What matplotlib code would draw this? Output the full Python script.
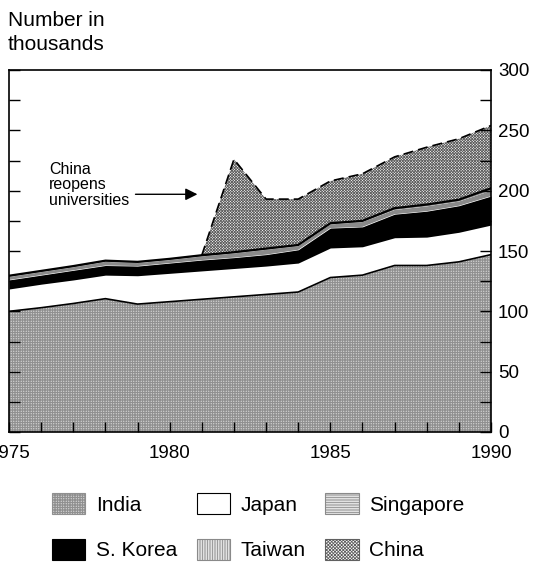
import matplotlib.pyplot as plt
import matplotlib.ticker as mticker
import numpy as np
from matplotlib.patches import Patch

plt.rcParams['font.family'] = ['Liberation Sans', 'DejaVu Sans']
plt.rcParams['hatch.linewidth'] = 0.6

years = np.arange(1975, 1991)
india = [100, 103, 106.5, 110.5, 106, 108, 110, 112, 114, 116, 128, 130, 138, 138, 141, 147]
japan = [18.5, 19.5, 19.5, 19.5, 23.5, 23.5, 23.5, 23.5, 23.5, 24, 24.5, 23.5, 23, 23.5, 24.5, 24.5]
korea = [7.5, 7.5, 8, 8, 8, 8.5, 9, 9, 9.5, 11, 16.5, 16.5, 19.5, 21.5, 22, 24]
taiwan = [2.5, 2.5, 2.5, 3, 2.5, 2.5, 3, 3.5, 4, 3, 3, 4, 3.5, 4, 3.5, 4.5]
singapore = [1, 1, 1, 1, 1, 1, 1, 1, 1, 1, 1, 1, 1.5, 1.5, 1.5, 2]
china = [0, 0, 0, 0, 0, 0, 0, 77, 41, 38, 35, 39, 42.5, 47.5, 50.5, 52]
china_start = 1981

names = ['India', 'Japan', 'S. Korea', 'Taiwan', 'Singapore', 'China']
series = [india, japan, korea, taiwan, singapore, china]
faces = ['white', 'white', 'black', 'white', 'white', 'white']
hatches = ['+' * 10, None, None, '|' * 20, '-' * 20, 'x' * 12]
hcolors = ['#909090', 'black', 'black', '#8a8a8a', '#8a8a8a', '#606060']

fig = plt.figure(figsize=(5.35, 5.64), dpi=100)
ax = fig.add_axes([9 / 535, 1 - 432 / 564, 482 / 535, 362 / 564])

tops = np.cumsum(np.array(series, dtype=float), axis=0)
bottom = np.zeros(len(years))
handles = {}
for i, name in enumerate(names):
    top = tops[i]
    mask = np.ones(len(years), bool)
    if name == 'China':
        mask = years >= china_start
    ax.fill_between(years[mask], bottom[mask], top[mask], facecolor=faces[i],
                    hatch=hatches[i], edgecolor=hcolors[i], linewidth=0)
    handles[name] = Patch(facecolor=faces[i], hatch=hatches[i] and hatches[i][:10],
                          edgecolor=hcolors[i] if faces[i] == 'white' and hatches[i] else 'black',
                          linewidth=0.8)
    bottom = top

# boundary lines
ax.plot(years, tops[0], color='black', lw=1.2)
ax.plot(years, tops[4], color='black', lw=1.6)
m = years >= china_start
ax.plot(years[m], tops[5][m], color='black', lw=1.2, dashes=(6, 3))

ax.annotate('', xy=(1980.95, 197), xytext=(1978.85, 197),
            arrowprops=dict(arrowstyle='-|>', color='black', lw=1, mutation_scale=18))
ax.text(1976.25, 224, 'China\nreopens\nuniversities', fontsize=11.5, va='top', ha='left',
        linespacing=1.05)

ax.set_xlim(1975, 1990)
ax.set_ylim(0, 300)
ax.xaxis.set_major_locator(mticker.MultipleLocator(5))
ax.xaxis.set_minor_locator(mticker.MultipleLocator(1))
ax.yaxis.set_major_locator(mticker.MultipleLocator(50))
ax.yaxis.set_minor_locator(mticker.MultipleLocator(25))
ax.tick_params(axis='y', which='both', left=True, right=True, labelleft=False,
               labelright=True, direction='in', length=8, width=1, labelsize=13.5, pad=5)
ax.tick_params(axis='x', which='both', direction='in', length=7, width=1,
               labelsize=13.5, pad=9, top=False)
for s in ax.spines.values():
    s.set_linewidth(1.2)

fig.text(8 / 535, 1 - 11 / 564, 'Number in\nthousands', fontsize=15, va='top', ha='left',
         linespacing=1.3)

order = ['India', 'S. Korea', 'Japan', 'Taiwan', 'Singapore', 'China']
fig.legend([handles[n] for n in order], order, ncol=3, loc='upper left',
           bbox_to_anchor=(52 / 535, 1 - 493 / 564), frameon=False, fontsize=15,
           handlelength=1.6, handleheight=1.2, handletextpad=0.5,
           columnspacing=0.95, labelspacing=1.15, borderpad=0, borderaxespad=0)

fig.savefig('out.png', dpi=100)
